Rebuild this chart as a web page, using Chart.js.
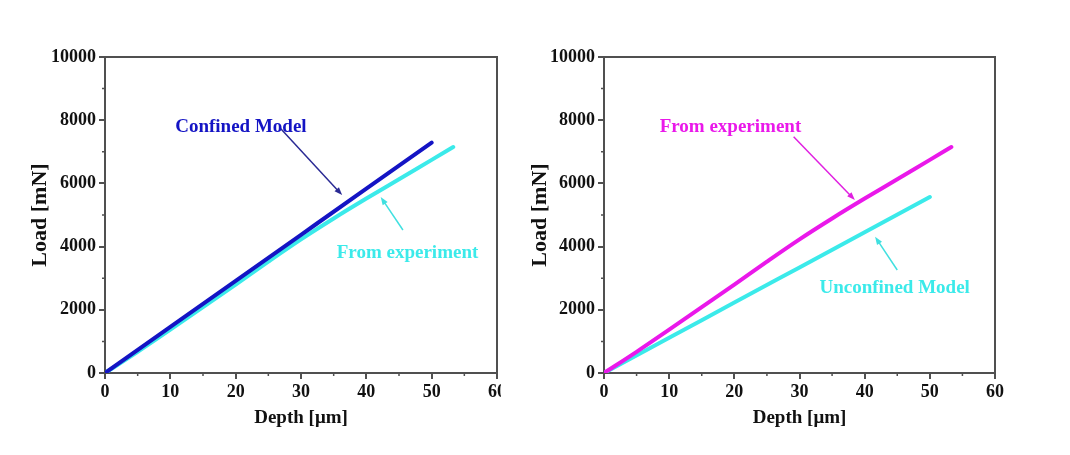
<!DOCTYPE html>
<html lang="en">
<head>
  <meta charset="UTF-8" />
  <title>Load vs Depth: confined and unconfined models</title>
  <script src="https://cdn.jsdelivr.net/npm/chart.js"></script>
  <style>
    body {
      margin: 0;
      background: #fff;
    }
    .wrap {
      position: relative;
      width: 1070px;
      height: 455px;
    }
    #leftChart { position: absolute; left: 0; top: 0; }
    #rightChart { position: absolute; left: 501px; top: 0; }
  </style>
</head>
<body>
  <div class="wrap">
    <canvas id="leftChart" width="501" height="455"></canvas>
    <canvas id="rightChart" width="569" height="455"></canvas>
  </div>
  <script>
    // measured indentation curve (depth in µm, load in mN)
    const expDepth = [0, 5, 10, 15, 20, 25, 30, 35, 40, 45, 50, 53.3];
    const expLoad = [0, 670, 1370, 2085, 2800, 3525, 4230, 4890, 5520, 6130, 6745, 7150];

    // confined model
    const confDepth = [0, 10, 20, 30, 40, 50];
    const confLoad = [0, 1458, 2916, 4374, 5832, 7290];

    // unconfined model
    const unconfDepth = [0, 10, 20, 30, 40, 50];
    const unconfLoad = [0, 1114, 2228, 3342, 4456, 5570];

    // axes
    const depthTicks = [0, 10, 20, 30, 40, 50, 60];
    const depthMinor = [5, 15, 25, 35, 45, 55];
    const loadTicks = [0, 2000, 4000, 6000, 8000, 10000];
    const loadMinor = [1000, 3000, 5000, 7000, 9000];

    const BLUE = "#1414C4";
    const CYAN = "#3BEAEA";
    const MAGENTA = "#EA18EA";
    const AXIS = "#505050";
    const SERIF = '"Liberation Serif", "Times New Roman", serif';

    const toPoints = (xs, ys) => xs.map((x, i) => ({ x: x, y: ys[i] }));

    function series(xs, ys, color) {
      return {
        data: toPoints(xs, ys),
        borderColor: color,
        backgroundColor: color,
        borderWidth: 4,
        borderCapStyle: "round",
        pointRadius: 0,
        cubicInterpolationMode: "monotone",
        fill: false
      };
    }

    function drawArrow(ctx, x1, y1, x2, y2, color) {
      const a = Math.atan2(y2 - y1, x2 - x1);
      const c = Math.cos(a), s = Math.sin(a);
      ctx.strokeStyle = color;
      ctx.fillStyle = color;
      ctx.lineWidth = 1.5;
      ctx.beginPath();
      ctx.moveTo(x1, y1);
      ctx.lineTo(x2 - 5 * c, y2 - 5 * s);
      ctx.stroke();
      ctx.beginPath();
      ctx.moveTo(x2, y2);
      ctx.lineTo(x2 - 8 * c + 3 * s, y2 - 8 * s - 3 * c);
      ctx.lineTo(x2 - 8 * c - 3 * s, y2 - 8 * s + 3 * c);
      ctx.closePath();
      ctx.fill();
    }

    // box frame, minor ticks and the labelled arrows
    function framePlugin(callouts) {
      return {
        id: "frame",
        afterDraw(chart) {
          const { ctx, chartArea: a, scales: { x, y } } = chart;
          ctx.save();
          ctx.strokeStyle = AXIS;
          ctx.lineWidth = 2;
          ctx.beginPath();
          ctx.moveTo(a.left, a.top);
          ctx.lineTo(a.right, a.top);
          ctx.lineTo(a.right, a.bottom);
          ctx.stroke();

          ctx.lineWidth = 1.5;
          ctx.beginPath();
          depthMinor.forEach(v => {
            const px = x.getPixelForValue(v);
            ctx.moveTo(px, a.bottom);
            ctx.lineTo(px, a.bottom + 3);
          });
          loadMinor.forEach(v => {
            const py = y.getPixelForValue(v);
            ctx.moveTo(a.left, py);
            ctx.lineTo(a.left - 3, py);
          });
          ctx.stroke();

          callouts.forEach(c => {
            drawArrow(ctx,
              x.getPixelForValue(c.from[0]), y.getPixelForValue(c.from[1]),
              x.getPixelForValue(c.to[0]), y.getPixelForValue(c.to[1]),
              c.arrowColor);
            ctx.font = "bold 19px " + SERIF;
            ctx.fillStyle = c.color;
            ctx.textAlign = "center";
            ctx.textBaseline = "middle";
            ctx.fillText(c.text, x.getPixelForValue(c.at[0]), y.getPixelForValue(c.at[1]));
          });
          ctx.restore();
        }
      };
    }

    function makeChart(id, datasets, yWidth, padRight, yTitlePad, callouts) {
      const tickFont = { family: SERIF, size: 18, weight: "bold" };
      new Chart(document.getElementById(id), {
        type: "line",
        data: { datasets: datasets },
        options: {
          responsive: false,
          animation: false,
          layout: { padding: { left: 0, top: 57, right: padRight, bottom: 0 } },
          plugins: {
            legend: { display: false },
            tooltip: { enabled: false }
          },
          scales: {
            x: {
              type: "linear",
              min: 0,
              max: 60,
              afterBuildTicks: s => { s.ticks = depthTicks.map(v => ({ value: v })); },
              afterFit: s => { s.height = 82; s.paddingLeft = 0; s.paddingRight = 0; },
              ticks: { color: "#111", font: tickFont, padding: 3, maxRotation: 0,
                       callback: v => String(v) },
              grid: { drawOnChartArea: false, tickLength: 6, color: AXIS, lineWidth: 2 },
              border: { display: true, color: AXIS, width: 2 },
              title: {
                display: true,
                text: "Depth [\u03bcm]",
                color: "#111",
                font: { family: SERIF, size: 19, weight: "bold" },
                padding: { top: 0, bottom: 26 }
              }
            },
            y: {
              min: 0,
              max: 10000,
              afterBuildTicks: s => { s.ticks = loadTicks.map(v => ({ value: v })); },
              afterFit: s => { s.width = yWidth; },
              ticks: { color: "#111", font: tickFont, padding: 3,
                       callback: v => String(v) },
              grid: { drawOnChartArea: false, tickLength: 6, color: AXIS, lineWidth: 2 },
              border: { display: true, color: AXIS, width: 2 },
              title: {
                display: true,
                text: "Load [mN]",
                color: "#111",
                font: { family: SERIF, size: 22, weight: "bold" },
                padding: { top: yTitlePad, bottom: 0 }
              }
            }
          }
        },
        plugins: [framePlugin(callouts)]
      });
    }

    makeChart("leftChart",
      [series(confDepth, confLoad, BLUE), series(expDepth, expLoad, CYAN)],
      105, 4, 27,
      [
        { text: "Confined Model", color: BLUE, at: [20.8, 7785],
          from: [26.8, 7750], to: [36.3, 5630], arrowColor: "#2A2A94" },
        { text: "From experiment", color: CYAN, at: [46.3, 3800],
          from: [45.6, 4525], to: [42.2, 5570], arrowColor: "#40E0E0" }
      ]);

    makeChart("rightChart",
      [series(expDepth, expLoad, MAGENTA), series(unconfDepth, unconfLoad, CYAN)],
      103, 75, 26,
      [
        { text: "From experiment", color: MAGENTA, at: [19.4, 7785],
          from: [29.1, 7478], to: [38.5, 5475], arrowColor: "#E020E0" },
        { text: "Unconfined Model", color: CYAN, at: [44.6, 2690],
          from: [45.0, 3260], to: [41.6, 4313], arrowColor: "#40E0E0" }
      ]);
  </script>
</body>
</html>
